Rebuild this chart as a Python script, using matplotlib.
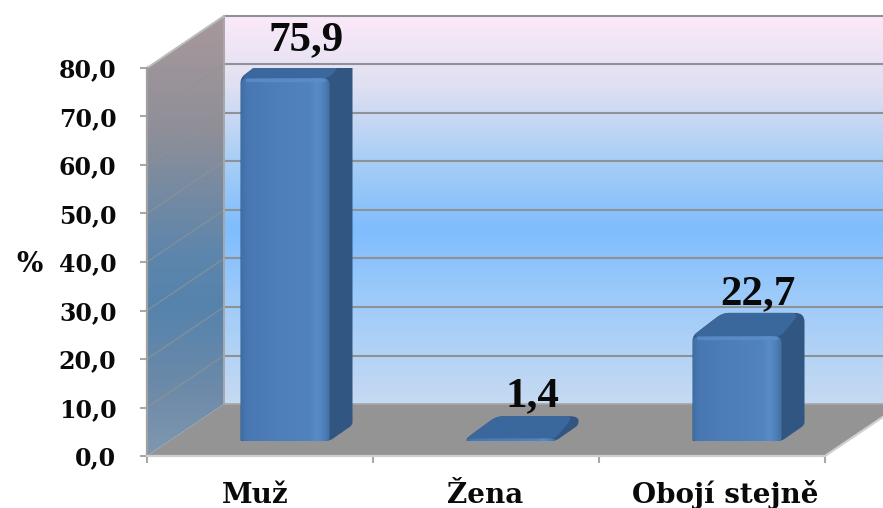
import matplotlib
matplotlib.use("Agg")
import matplotlib.pyplot as plt
import numpy as np
from matplotlib.colors import LinearSegmentedColormap
from matplotlib.patches import PathPatch, Polygon
from matplotlib.path import Path

categories = ["Muž", "Žena", "Obojí stejně"]
values = [75.9, 1.4, 22.7]
value_labels = ["75,9", "1,4", "22,7"]
y_ticks = [0, 10, 20, 30, 40, 50, 60, 70, 80]
y_tick_labels = ["0,0", "10,0", "20,0", "30,0", "40,0", "50,0", "60,0", "70,0", "80,0"]

W, H = 883, 508
# one category is 226 px wide, one percent is 4.85 px tall
PX_X = 226
PX_Y = 4.85
DX = 77 / PX_X
DY = 52 / PX_Y
BAR_W = 89 / PX_X
BAR_OX = 23 / PX_X
BAR_OY = 16 / PX_Y
BAR_X = 25 / PX_X
BAR_Y = 15 / PX_Y
TEXT = "#0a0a0a"
SERIF = "Liberation Serif"
WIDE = "DejaVu Serif"

back_cmap = LinearSegmentedColormap.from_list("back", [
    (0.0, "#fbe9f8"), (0.18, "#dfe0f2"), (0.38, "#a6cdf6"), (0.55, "#7fbdfd"),
    (0.72, "#9ccafa"), (1.0, "#c6daf2")])
left_cmap = LinearSegmentedColormap.from_list("left", [
    (0.0, "#a8989c"), (0.26, "#8f8f98"), (0.53, "#5f86ab"), (0.66, "#5583ad"),
    (0.85, "#6d8aa8"), (1.0, "#7f98b0")])
front_cmap = LinearSegmentedColormap.from_list("front", [
    (0.0, "#3f6fa8"), (0.07, "#4877b2"), (0.3, "#4d7db9"), (0.78, "#5183bf"),
    (0.86, "#5a8cc8"), (0.93, "#4f80bb"), (1.0, "#42719f")])


def rounded(points, radii):
    # closed outline with corners cut back by a radius given in pixels
    pts = [np.array(p, dtype=float) for p in points]
    verts, codes = [], []
    n_pts = len(pts)

    def toward(p, q, r):
        length = np.hypot((q[0] - p[0]) * PX_X, (q[1] - p[1]) * PX_Y)
        return p + (q - p) * min(0.5, r / max(length, 1e-6))

    for i in range(n_pts):
        p, prev, nxt = pts[i], pts[i - 1], pts[(i + 1) % n_pts]
        verts.append(toward(p, prev, radii[i]))
        codes.append(Path.MOVETO if i == 0 else Path.LINETO)
        verts += [p, toward(p, nxt, radii[i])]
        codes += [Path.CURVE3, Path.CURVE3]
    verts.append(verts[0])
    codes.append(Path.CLOSEPOLY)
    return Path(verts, codes)


def clipped_gradient(ax, cmap, extent, clip, zorder, horizontal=False):
    grad = np.linspace(0, 1, 256)
    grad = grad[None, :] if horizontal else grad[:, None]
    im = ax.imshow(grad, cmap=cmap, extent=extent, origin="upper", aspect="auto",
                   zorder=zorder, interpolation="bilinear")
    im.set_clip_box(ax.figure.bbox)
    im.set_clip_path(PathPatch(clip, transform=ax.transData))


fig = plt.figure(figsize=(W / 100, H / 100), dpi=100)
ax = fig.add_axes([147 / W, 1 - 456 / H, 678 / W, 388 / H])
ax.patch.set_visible(False)
for spine in ax.spines.values():
    spine.set_visible(False)

n = len(categories)
top = y_ticks[-1]
ax.set_xlim(0, n)
ax.set_ylim(0, top)

# floor, back wall and left wall
ax.add_patch(Polygon([(0, 0), (DX, DY), (n + DX, DY), (n, 0)], fc="#949494", ec="none",
                     zorder=1, clip_on=False))
clipped_gradient(ax, back_cmap, (DX, n + DX, DY, top + DY),
                 Path([(DX, DY), (n + DX, DY), (n + DX, top + DY), (DX, top + DY), (DX, DY)]), 1)
clipped_gradient(ax, left_cmap, (0, DX, 0, top + DY),
                 Path([(0, 0), (DX, DY), (DX, top + DY), (0, top), (0, 0)]), 1)

# gridlines run along the left wall and then the back wall
for t in y_ticks[1:]:
    ax.plot([0, DX], [t, t + DY], color="#8f9394", lw=1.0, alpha=0.7, zorder=2, clip_on=False)
    ax.plot([DX, n + DX], [t + DY, t + DY], color="#8e9296", lw=1.5, zorder=2, clip_on=False)
ax.plot([DX, n + DX], [DY, DY], color="#a6a6a6", lw=1.2, zorder=2, clip_on=False)
ax.plot([DX, DX], [DY, top + DY], color="#a8a8a8", lw=1.4, zorder=2, clip_on=False)
ax.plot([0, DX], [top, top + DY], color="#bdbdbd", lw=1.4, zorder=2, clip_on=False)
ax.plot([0, 0], [0, top], color="#a0a0a0", lw=1.6, zorder=2, clip_on=False)
ax.plot([0, n, n + DX], [0, 0, DY], color="#cfcfcf", lw=1.6, zorder=2, clip_on=False)

# bars: the upper edge of the front face is bevelled back into the top
label_pad = [7, 12, 11]
for i, (val, lab) in enumerate(zip(values, value_labels)):
    x0 = i + 0.5 - BAR_W / 2 + BAR_X
    x1 = x0 + BAR_W
    y0 = BAR_Y
    y1 = BAR_Y + val
    bevel = min(5, val * PX_Y * 0.6) / PX_Y
    yf = y1 - bevel
    yb = y1 + BAR_OY + 2 / PX_Y
    xb = x0 + BAR_OX + 7 / PX_X
    # side and top sit behind the front face
    outline = [(x0, y0), (x1, y0), (x1 + BAR_OX, y0 + BAR_OY), (x1 + BAR_OX, yb), (xb, yb), (x0, yf)]
    ax.add_patch(PathPatch(rounded(outline, [1, 4, 3, 9, 7, 5]), fc="#315681", ec="none", zorder=3))
    top_face = [(x0, yf), (x1, yf), (x1 + BAR_OX - 5 / PX_X, yb), (xb, yb)]
    ax.add_patch(PathPatch(rounded(top_face, [5, 5, 8, 7]), fc="#3b689c", ec="none", zorder=3))
    # front face with rounded upper corners
    face = rounded([(x0, y0), (x1, y0), (x1, yf), (x0, yf)], [3, 3, 7, 7])
    clipped_gradient(ax, front_cmap, (x0, x1, y0, yf), face, 4, horizontal=True)
    if val > 5:
        ax.plot([x0 + 6 / PX_X, x1 - 6 / PX_X], [yf - 0.5, yf - 0.5], color="#5c8ecb", lw=2.4,
                alpha=0.8, zorder=5, solid_capstyle="round")
    ax.text(x0 + BAR_W / 2 + 21 / PX_X, y1 + BAR_OY + label_pad[i] / PX_Y, lab, ha="center",
            va="baseline", fontsize=31, fontweight="bold", family=SERIF, color=TEXT, zorder=6)

# axis ticks and labels
ax.set_xlim(0, n)
ax.set_ylim(0, top)
ax.set_xticks(range(n + 1))
ax.set_xticklabels([])
ax.set_yticks(y_ticks)
ax.set_yticklabels(y_tick_labels, family=WIDE, fontweight="bold", fontsize=17, color=TEXT)
ax.tick_params(axis="both", color="#a8a8a8", width=1.5, length=5, pad=17)
label_shift = [-5, -1, 13]
for i, name in enumerate(categories):
    ax.annotate(name, (i + 0.5, 0), xytext=(label_shift[i], -47), textcoords="offset pixels",
                ha="center", va="baseline", family=WIDE, fontweight="bold", fontsize=20,
                color=TEXT, annotation_clip=False)
fig.text(29.5 / W, 1 - 265 / H, "%", family=WIDE, fontweight="bold", fontsize=20,
         color=TEXT, ha="center", va="center")

fig.savefig("out.png", dpi=100)
